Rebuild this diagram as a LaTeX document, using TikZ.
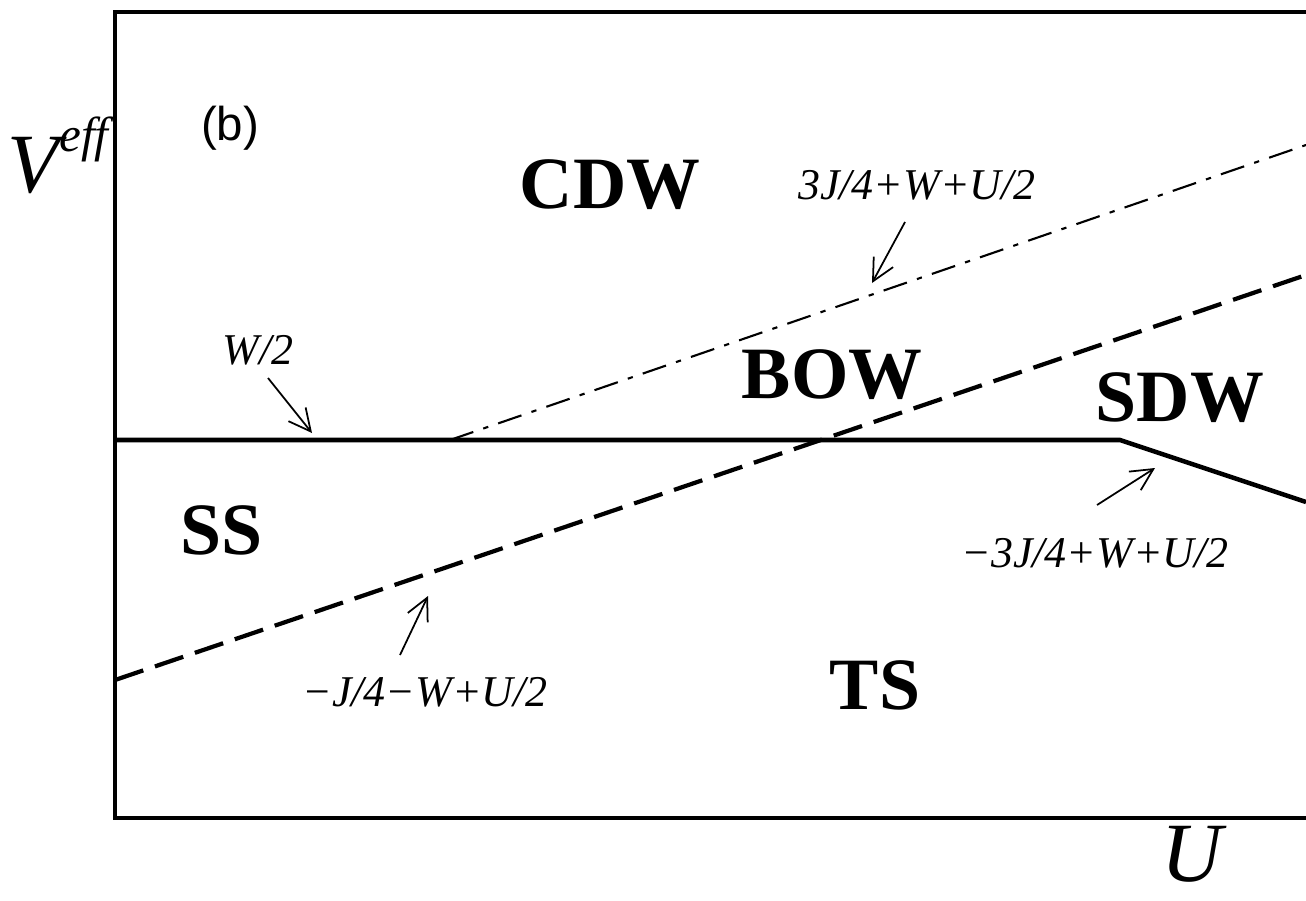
\documentclass[tikz,border=0pt]{standalone}
\usepackage{fontspec}
\setmainfont{Liberation Serif}
\setsansfont{Liberation Sans}
\usetikzlibrary{arrows.meta}
\tikzset{
  phase/.style   = {font=\fontsize{21}{21}\selectfont\bfseries},
  formula/.style = {font=\fontsize{12.5}{12.5}\selectfont\itshape},
  axlab/.style   = {font=\fontsize{24}{24}\selectfont\itshape, inner sep=0pt},
  border/.style  = {line width=0.9pt},
  solidb/.style  = {line width=1.3pt, line join=miter},
  dashdotb/.style= {line width=0.6pt, dash pattern=on 7pt off 3pt on 1.5pt off 3pt},
  dashb/.style   = {line width=1.2pt, dash pattern=on 8.5pt off 3.5pt},
  pointer/.style = {-{Straight Barb[length=2.2mm,width=2.2mm]}, line width=0.5pt},
}
\begin{document}
\begin{tikzpicture}
\useasboundingbox (0,0) rectangle (13.06,9);
\clip (0,0) rectangle (13.06,9);
% frame
\draw[border] (1.15,0.82) rectangle (13.3,8.88);
% phase boundaries
\coordinate (h0) at (1.15,4.60);
\coordinate (hk) at (11.20,4.60);
\coordinate (hr) at (13.06,3.98);
\coordinate (c0) at (4.50,4.60);
\coordinate (c1) at (13.06,7.55);
\coordinate (d0) at (1.15,2.20);
\coordinate (d1) at (13.06,6.25);
\draw[solidb] (h0) -- (hk) -- (hr);
\draw[dashdotb] (c0) -- (c1);
\draw[dashb] (d0) -- (d1);
% labels
\node[axlab] (veff) at (0.58,7.45) {V\raisebox{1.05ex}{\fontsize{14}{14}\selectfont eff}};
\node[axlab] (uax) at (11.92,0.46) {U};
\node[font=\sffamily\fontsize{13.5}{13.5}\selectfont] (panel) at (2.30,7.72) {(b)};
\node[phase] (cdw) at (6.10,7.15) {CDW};
\node[phase] (bow) at (8.32,5.25) {BOW};
\node[phase] (sdw) at (11.80,5.02) {SDW};
\node[phase] (ss)  at (2.22,3.70) {SS};
\node[phase] (ts)  at (8.75,2.15) {TS};
\node[formula] (lw)  at (2.58,5.50) {W/2};
\node[formula] (lc)  at (9.17,7.15) {3J/4+W+U/2};
\node[formula] (ls)  at (10.95,3.47) {−3J/4+W+U/2};
\node[formula] (ld)  at (4.25,2.08) {−J/4−W+U/2};
% pointers
\coordinate (pw0) at (2.68,5.22);
\coordinate (pw1) at (3.12,4.67);
\coordinate (pc0) at (9.05,6.78);
\coordinate (pc1) at (8.72,6.17);
\coordinate (ps0) at (10.97,3.95);
\coordinate (ps1) at (11.55,4.32);
\coordinate (pd0) at (4.00,2.45);
\coordinate (pd1) at (4.28,3.04);
\draw[pointer] (pw0) -- (pw1);
\draw[pointer] (pc0) -- (pc1);
\draw[pointer] (ps0) -- (ps1);
\draw[pointer] (pd0) -- (pd1);
\end{tikzpicture}
\end{document}
